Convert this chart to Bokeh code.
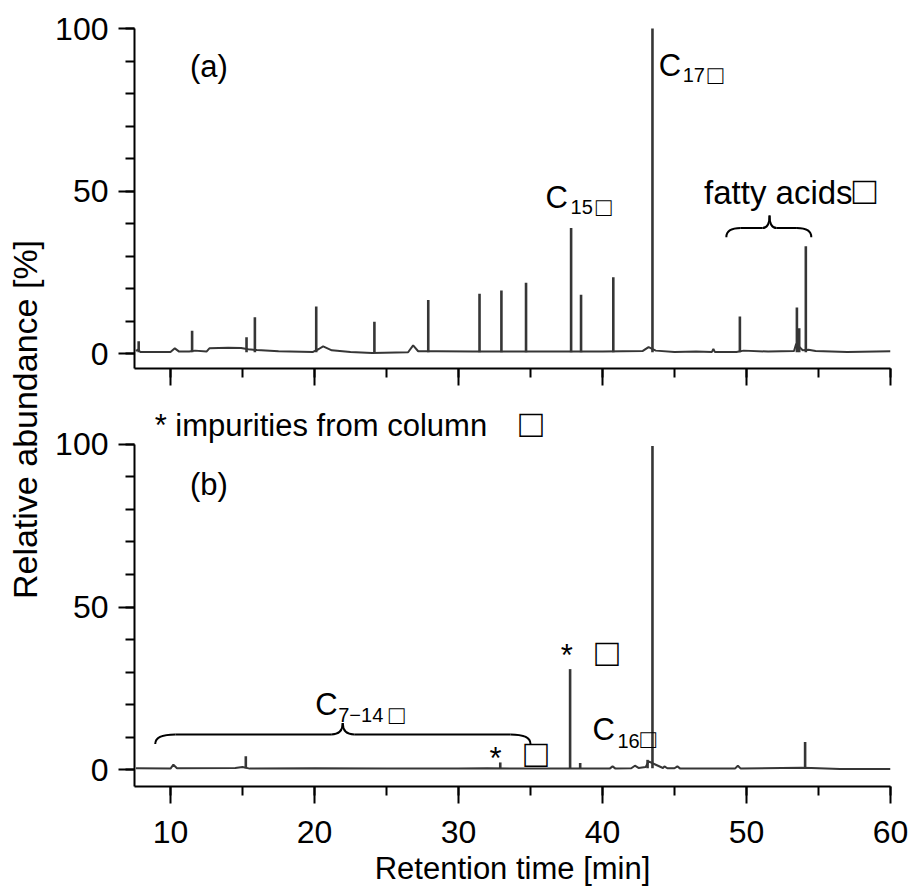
import numpy as np
from bokeh.plotting import figure
from bokeh.models import Label, FixedTicker, Range1d
from bokeh.layouts import row, column
from bokeh.embed import file_html
from bokeh.resources import INLINE

# ---------------- data ----------------
X_TICKS = [10, 20, 30, 40, 50, 60]
X_MINOR = [10, 15, 20, 25, 30, 35, 40, 45, 50, 55, 60]
Y_TICKS = [0, 50, 100]
Y_MINOR = [0, 10, 20, 30, 40, 50, 60, 70, 80, 90, 100]

# panel (a): baseline trace (time [min], abundance [%])
TOP_BASE_T = [7.6, 7.75, 7.9, 10.0, 10.3, 10.6, 11.3, 11.7, 12.5, 12.7, 14.0, 14.9, 15.4, 16.0, 17.5,
              19.9, 20.3, 20.6, 21.2, 22.5, 24.0, 26.5, 26.85, 27.2, 28.5, 31.0, 35.0, 38.0, 40.0,
              42.8, 43.2, 43.7, 45.0, 46.5, 47.6, 47.7, 47.8, 49.3, 49.8, 51.5, 53.3, 53.45, 53.9,
              54.3, 54.8, 57.0, 60.0]
TOP_BASE_Y = [0.8, 1.2, 0.5, 0.5, 1.6, 0.6, 0.6, 0.9, 0.6, 1.6, 1.8, 1.7, 1.3, 1.1, 0.7,
              0.5, 1.4, 2.2, 1.0, 0.5, 0.2, 0.4, 2.5, 0.7, 0.7, 0.6, 0.6, 0.6, 0.6,
              0.8, 2.0, 0.9, 0.5, 0.6, 0.5, 1.4, 0.5, 0.5, 0.9, 0.6, 0.8, 3.0, 1.0,
              1.2, 0.8, 0.5, 0.7]
# panel (a): peaks (apex time, apex height)
TOP_PEAK_T = [7.79, 11.5, 15.28, 15.86, 20.12, 24.16, 27.9, 31.46, 32.98, 34.69, 37.82, 38.51,
              40.75, 43.47, 49.54, 53.5, 53.66, 54.12]
TOP_PEAK_H = [3.8, 7.0, 5.0, 11.2, 14.5, 9.8, 16.5, 18.4, 19.4, 21.8, 38.6, 18.1,
              23.5, 100.0, 11.4, 14.2, 7.8, 33.0]

# panel (b): baseline trace
BOT_BASE_T = [7.6, 10.0, 10.2, 10.45, 14.5, 15.0, 15.5, 20.0, 25.0, 30.0, 32.0, 35.0, 38.0,
              40.5, 40.7, 40.9, 42.0, 42.25, 42.5, 43.0, 43.2, 43.7, 44.2, 44.3, 44.5, 45.0,
              45.2, 45.4, 49.2, 49.4, 49.6, 53.8, 54.5, 56.5, 60.0]
BOT_BASE_Y = [0.4, 0.3, 1.5, 0.4, 0.5, 0.8, 0.3, 0.4, 0.3, 0.3, 0.4, 0.3, 0.3,
              0.3, 1.0, 0.3, 0.4, 1.2, 0.5, 0.8, 2.5, 1.5, 0.5, 1.0, 0.4, 0.4,
              1.0, 0.3, 0.3, 1.2, 0.3, 0.6, 0.5, 0.2, 0.2]
BOT_PEAK_T = [15.23, 32.9, 37.75, 38.45, 43.13, 43.47, 54.07]
BOT_PEAK_H = [4.1, 2.2, 30.9, 2.0, 3.0, 99.5, 8.5]

PEAK_FOOT = 0.4

# ---------------- style ----------------
FONT = "Liberation Sans"
INK = "#363636"
MAIN = 31
TICK = "32px"
SUB = 20
BOX_BIG = 39
BOX_SUB = 26
BOX = "\u25a1"
BASE_FIX = 0.33   # em shift so that given y is the text baseline


def make_fig(height, y_start, y_end, mb_top, mb_bottom):
    p = figure(width=858, height=height, x_range=Range1d(7.5, 60), y_range=Range1d(y_start, y_end),
               title=None, output_backend="svg", toolbar_location=None,
               min_border_left=79, min_border_right=20, min_border_top=mb_top, min_border_bottom=mb_bottom)
    p.outline_line_color = None
    p.grid.visible = False
    p.background_fill_color = "white"
    p.border_fill_color = "white"
    for ax in (p.xaxis[0], p.yaxis[0]):
        ax.axis_line_width = 2
        ax.axis_line_color = "black"
        ax.major_tick_line_width = 2
        ax.minor_tick_line_width = 2
        ax.major_tick_line_color = "black"
        ax.minor_tick_line_color = "black"
        ax.major_tick_in = 0
        ax.minor_tick_in = 0
        ax.major_label_text_font = FONT
        ax.major_label_text_font_size = TICK
        ax.major_label_text_color = "black"
        ax.axis_label_text_font = FONT
        ax.axis_label_text_font_size = "31px"
        ax.axis_label_text_font_style = "normal"
        ax.axis_label_text_color = "black"
    p.xaxis.ticker = FixedTicker(ticks=X_TICKS, minor_ticks=X_MINOR)
    p.xaxis.major_tick_out = 17
    p.xaxis.minor_tick_out = 9
    p.yaxis.ticker = FixedTicker(ticks=Y_TICKS, minor_ticks=Y_MINOR)
    p.yaxis.major_tick_out = 16
    p.yaxis.minor_tick_out = 9
    p.yaxis.major_label_standoff = 10
    p.yaxis.bounds = (y_start, 100)
    return p


def add_text(p, x, y, text, size=MAIN, xo=0, yo=0, align="left"):
    p.add_layout(Label(x=x, y=y, text=text, x_offset=xo, y_offset=yo + BASE_FIX * size,
                       text_font=FONT, text_font_size=f"{size}px", text_color="black",
                       text_align=align, text_baseline="alphabetic"))


def add_brace(p, xl, xr, xt, y_end, y_flat, y_tip, r_end, r_tip):
    p.quadratic(x0=[xl, xt - r_tip, xt, xr - r_end], y0=[y_end, y_flat, y_tip, y_flat],
                x1=[xl + r_end, xt, xt + r_tip, xr], y1=[y_flat, y_tip, y_flat, y_end],
                cx=[xl, xt, xt, xr], cy=[y_flat, y_flat, y_flat, y_flat],
                line_color="black", line_width=2)
    p.segment(x0=[xl + r_end, xt + r_tip], y0=[y_flat, y_flat], x1=[xt - r_tip, xr - r_end],
              y1=[y_flat, y_flat], line_color="black", line_width=2)


# ---------------- panel (a) ----------------
top = make_fig(395, -4.6, 101.55, 23, 27)
top.xaxis.major_label_text_font_size = "1px"
top.xaxis.major_label_text_color = None
top.line(TOP_BASE_T, TOP_BASE_Y, line_color=INK, line_width=2)
top.segment(x0=TOP_PEAK_T, y0=[PEAK_FOOT] * len(TOP_PEAK_T), x1=TOP_PEAK_T, y1=TOP_PEAK_H,
            line_color=INK, line_width=2.6)
add_text(top, 11.35, 85.2, "(a)")
add_text(top, 43.9, 85.5, "C")
add_text(top, 43.9, 85.5, "17", size=SUB, xo=24, yo=-6)
add_text(top, 47.83, 83.2, BOX, size=BOX_SUB, align="center")
add_text(top, 36.05, 45.0, "C")
add_text(top, 36.05, 45.0, "15", size=SUB, xo=25, yo=-6)
add_text(top, 40.08, 42.5, BOX, size=BOX_SUB, align="center")
add_text(top, 47.05, 46.1, "fatty acids", size=33)
add_text(top, 58.2, 46.1, BOX, size=BOX_BIG, align="center")
add_brace(top, 48.6, 54.5, 51.6, 35.8, 38.6, 42.5, 1.0, 0.5)

# ---------------- panel (b) ----------------
bot = make_fig(493, -5.2, 111.36, 12, 101)
bot.xaxis.major_label_standoff = 17
bot.xaxis.axis_label = "Retention time [min]"
bot.xaxis.axis_label_standoff = 5
bot.line(BOT_BASE_T, BOT_BASE_Y, line_color=INK, line_width=2)
bot.segment(x0=BOT_PEAK_T, y0=[PEAK_FOOT] * len(BOT_PEAK_T), x1=BOT_PEAK_T, y1=BOT_PEAK_H,
            line_color=INK, line_width=2.6)
add_text(bot, 8.9, 102.8, "* impurities from column")
add_text(bot, 35.03, 102.45, BOX, size=BOX_BIG, align="center")
add_text(bot, 11.35, 84.4, "(b)")
add_text(bot, 20.05, 16.9, "C")
add_text(bot, 20.05, 16.9, "7\u221214", size=SUB, xo=23, yo=-7)
add_text(bot, 25.7, 14.3, BOX, size=BOX_SUB, align="center")
add_text(bot, 39.3, 9.2, "C")
add_text(bot, 39.3, 9.2, "16", size=SUB, xo=25, yo=-8)
add_text(bot, 43.17, 6.65, BOX, size=BOX_SUB, align="center")
add_text(bot, 32.58, 0.3, "*", align="center")
add_text(bot, 37.52, 31.9, "*", align="center")
add_text(bot, 35.38, 0.9, BOX, size=BOX_BIG, align="center")
add_text(bot, 40.31, 32.0, BOX, size=BOX_BIG, align="center")
add_brace(bot, 8.94, 35.0, 21.96, 7.9, 10.8, 14.3, 1.4, 0.8)

# ---------------- shared y-axis title ----------------
ylab = figure(width=52, height=888, x_range=Range1d(0, 52), y_range=Range1d(0, 888),
              x_axis_type=None, y_axis_type=None, title=None,
              output_backend="svg", toolbar_location=None, min_border=0)
ylab.outline_line_color = None
ylab.grid.visible = False
ylab.add_layout(Label(x=24.5, y=469, text="Relative abundance [%]", angle=np.pi / 2, text_font=FONT,
                      text_font_size="34px", text_color="black", text_align="center",
                      text_baseline="middle"))

layout = row(ylab, column(top, bot))
open("out.html", "w").write(file_html(layout, INLINE))
